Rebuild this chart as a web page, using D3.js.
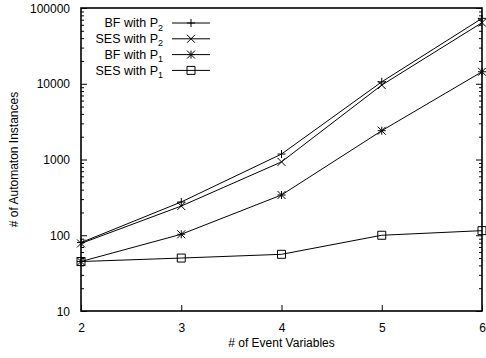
<!DOCTYPE html>
<html>
<head>
<meta charset="utf-8">
<script src="https://cdn.jsdelivr.net/npm/d3@7"></script>
<style>
  body { margin: 0; background: #fff; }
  text { font-family: "Liberation Sans", Arial, sans-serif; fill: #000; }
</style>
</head>
<body>
<script>
// data
const eventVars = [2, 3, 4, 5, 6];
const bfP2 = [80, 275, 1180, 10600, 73000];
const sesP2 = [78, 243, 930, 9600, 64000];
const bfP1 = [45, 103, 340, 2400, 14400];
const sesP1 = [45, 50, 56, 100, 115];
const yTickValues = [10, 100, 1000, 10000, 100000];

const series = [
  { name: "BF with P", sub: "2", values: bfP2, marker: "plus" },
  { name: "SES with P", sub: "2", values: sesP2, marker: "cross" },
  { name: "BF with P", sub: "1", values: bfP1, marker: "star" },
  { name: "SES with P", sub: "1", values: sesP1, marker: "square" }
];

const width = 486;
const height = 358;
const margin = { left: 81, right: 4, top: 8, bottom: 47 };

const svg = d3
  .select("body")
  .append("svg")
  .attr("width", width)
  .attr("height", height);

const x = d3
  .scaleLinear()
  .domain([2, 6])
  .range([margin.left, width - margin.right]);

const y = d3
  .scaleLog()
  .domain([10, 100000])
  .range([height - margin.bottom, margin.top]);

// minor ticks for log axis
const minorTicks = [];
for (let d = 10; d < 100000; d *= 10) {
  for (let k = 2; k <= 9; k++) minorTicks.push(d * k);
}

const axes = svg.append("g");

// left axis
axes
  .append("g")
  .attr("transform", `translate(${margin.left},0)`)
  .call(d3.axisLeft(y).tickValues(yTickValues).tickFormat(d3.format("d")).tickSize(-6).tickPadding(11))
  .call((g) => g.select(".domain").remove())
  .call((g) => g.selectAll("text").attr("font-size", 12).attr("dy", "0.35em"));
axes
  .append("g")
  .attr("transform", `translate(${margin.left},0)`)
  .call(d3.axisLeft(y).tickValues(minorTicks).tickFormat("").tickSize(-3))
  .call((g) => g.select(".domain").remove());

// right axis (mirrored ticks)
axes
  .append("g")
  .attr("transform", `translate(${width - margin.right},0)`)
  .call(d3.axisRight(y).tickValues(yTickValues).tickFormat("").tickSize(-6))
  .call((g) => g.select(".domain").remove());
axes
  .append("g")
  .attr("transform", `translate(${width - margin.right},0)`)
  .call(d3.axisRight(y).tickValues(minorTicks).tickFormat("").tickSize(-3))
  .call((g) => g.select(".domain").remove());

// bottom axis
axes
  .append("g")
  .attr("transform", `translate(0,${height - margin.bottom})`)
  .call(d3.axisBottom(x).tickValues(eventVars).tickFormat(d3.format("d")).tickSize(-6).tickPadding(12))
  .call((g) => g.select(".domain").remove())
  .call((g) => g.selectAll("text").attr("font-size", 12));

axes.selectAll(".tick line").attr("stroke", "#000");

// border
svg
  .append("rect")
  .attr("x", margin.left)
  .attr("y", margin.top)
  .attr("width", width - margin.right - margin.left)
  .attr("height", height - margin.bottom - margin.top)
  .attr("fill", "none")
  .attr("stroke", "#000")
  .attr("stroke-width", 1.6);

// axis titles
svg
  .append("text")
  .attr("x", (margin.left + width - margin.right) / 2)
  .attr("y", 347)
  .attr("text-anchor", "middle")
  .attr("font-size", 12)
  .text("# of Event Variables");

svg
  .append("text")
  .attr("transform", `translate(18,${(margin.top + height - margin.bottom) / 2}) rotate(-90)`)
  .attr("text-anchor", "middle")
  .attr("font-size", 12)
  .text("# of Automaton Instances");

function drawMarker(g, type, cx, cy) {
  const s = 4;
  let p;
  if (type === "plus") {
    p = `M${cx - s},${cy}H${cx + s}M${cx},${cy - s}V${cy + s}`;
  } else if (type === "cross") {
    p = `M${cx - s},${cy - s}L${cx + s},${cy + s}M${cx - s},${cy + s}L${cx + s},${cy - s}`;
  } else if (type === "star") {
    p = `M${cx - s},${cy}H${cx + s}M${cx},${cy - s}V${cy + s}` +
      `M${cx - s},${cy - s}L${cx + s},${cy + s}M${cx - s},${cy + s}L${cx + s},${cy - s}`;
  } else {
    p = `M${cx - s},${cy - s}H${cx + s}V${cy + s}H${cx - s}Z`;
  }
  g.append("path")
    .attr("d", p)
    .attr("fill", "none")
    .attr("stroke", "#000")
    .attr("stroke-width", 1);
}

const line = d3
  .line()
  .x((d, i) => x(eventVars[i]))
  .y((d) => y(d));

const plot = svg.append("g");
series.forEach((s) => {
  plot
    .append("path")
    .attr("d", line(s.values))
    .attr("fill", "none")
    .attr("stroke", "#000")
    .attr("stroke-width", 1);
  s.values.forEach((v, i) => drawMarker(plot, s.marker, x(eventVars[i]), y(v)));
});

// legend
const legend = svg.append("g");
series.forEach((s, i) => {
  const ly = 23 + i * 15.8;
  const t = legend
    .append("text")
    .attr("x", 163)
    .attr("y", ly)
    .attr("dy", "0.35em")
    .attr("text-anchor", "end")
    .attr("font-size", 12.5);
  t.append("tspan").text(s.name);
  t.append("tspan").attr("font-size", 9).attr("dy", "0.35em").text(s.sub);
  legend
    .append("line")
    .attr("x1", 172)
    .attr("x2", 210)
    .attr("y1", ly)
    .attr("y2", ly)
    .attr("stroke", "#000")
    .attr("stroke-width", 1);
  drawMarker(legend, s.marker, 191, ly);
});
</script>
</body>
</html>
